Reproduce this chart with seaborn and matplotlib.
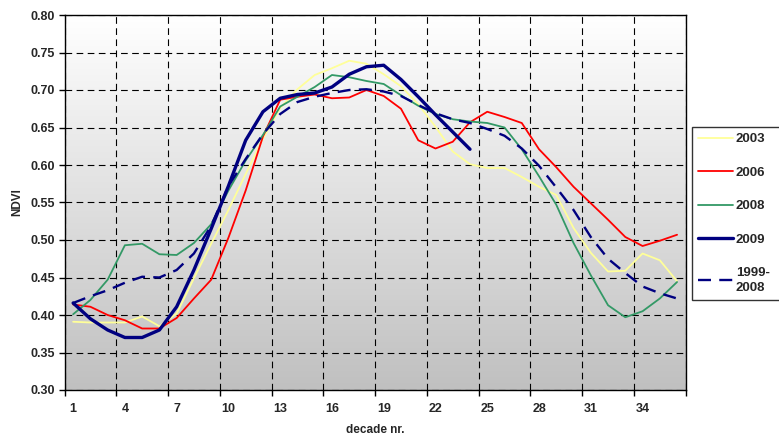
import numpy as np
import pandas as pd
import matplotlib
matplotlib.use("Agg")
import matplotlib.pyplot as plt
import seaborn as sns
from matplotlib.colors import LinearSegmentedColormap

# ---- data ----
decades = list(range(1, 37))
y2003 = [0.391, 0.390, 0.390, 0.390, 0.398, 0.385, 0.402, 0.449, 0.495, 0.540,
         0.588, 0.635, 0.676, 0.701, 0.720, 0.729, 0.739, 0.735, 0.721, 0.705,
         0.681, 0.651, 0.618, 0.601, 0.596, 0.596, 0.584, 0.571, 0.560, 0.516,
         0.483, 0.458, 0.459, 0.482, 0.473, 0.445]
y2006 = [0.414, 0.411, 0.400, 0.393, 0.382, 0.382, 0.396, 0.422, 0.447, 0.503,
         0.566, 0.638, 0.687, 0.691, 0.694, 0.689, 0.690, 0.700, 0.692, 0.675,
         0.633, 0.622, 0.631, 0.657, 0.671, 0.664, 0.656, 0.621, 0.597, 0.571,
         0.549, 0.527, 0.504, 0.492, 0.499, 0.507]
y2008 = [0.401, 0.420, 0.447, 0.493, 0.495, 0.481, 0.480, 0.496, 0.521, 0.566,
         0.606, 0.640, 0.678, 0.691, 0.704, 0.720, 0.717, 0.712, 0.708, 0.693,
         0.679, 0.668, 0.661, 0.658, 0.656, 0.650, 0.621, 0.585, 0.547, 0.496,
         0.453, 0.413, 0.397, 0.405, 0.422, 0.444]
y2009 = [0.416, 0.395, 0.380, 0.370, 0.370, 0.380, 0.411, 0.460, 0.515, 0.572,
         0.633, 0.671, 0.689, 0.694, 0.696, 0.704, 0.721, 0.731, 0.733, 0.714,
         0.691, 0.667, 0.644, 0.621]
y_avg = [0.416, 0.425, 0.433, 0.443, 0.451, 0.450, 0.460, 0.482, 0.519, 0.572,
         0.608, 0.641, 0.668, 0.684, 0.691, 0.696, 0.700, 0.701, 0.698, 0.692,
         0.680, 0.669, 0.661, 0.656, 0.648, 0.639, 0.622, 0.599, 0.570, 0.540,
         0.504, 0.475, 0.456, 0.438, 0.429, 0.422]
series_labels = ["2003", "2006", "2008", "2009", "1999-\n2008"]
xtick_labels = ["1", "4", "7", "10", "13", "16", "19", "22", "25", "28", "31", "34"]
ytick_values = [0.30, 0.35, 0.40, 0.45, 0.50, 0.55, 0.60, 0.65, 0.70, 0.75, 0.80]

sns.set_style("white")
plt.rcParams['font.family'] = ['Liberation Sans', 'DejaVu Sans']
plt.rcParams['font.weight'] = 'bold'

W, H = 779, 437
fig = plt.figure(figsize=(W / 100, H / 100), dpi=100)
fig.patch.set_facecolor("white")
ax = fig.add_axes([64.5 / W, 1 - 390 / H, (685.7 - 64.5) / W, (390 - 15) / H])

# gradient background
grad = np.linspace(1.0, 0.0, 256).reshape(-1, 1)
cmap = LinearSegmentedColormap.from_list("bg", ["#c0c0c0", "#ffffff"])
ax.imshow(grad, aspect="auto", cmap=cmap, extent=[0, 1, 0, 1],
          transform=ax.transAxes, zorder=0, origin="upper", vmin=0, vmax=1)

sns.lineplot(x=decades, y=y2003, ax=ax, color="#ffff99", linewidth=1.3, label=series_labels[0], zorder=3)
sns.lineplot(x=decades, y=y2006, ax=ax, color="#ff0000", linewidth=1.3, label=series_labels[1], zorder=3)
sns.lineplot(x=decades, y=y2008, ax=ax, color="#339966", linewidth=1.3, label=series_labels[2], zorder=3)
sns.lineplot(x=decades[:len(y2009)], y=y2009, ax=ax, color="#000080", linewidth=2.4, label=series_labels[3], zorder=4)
sns.lineplot(x=decades, y=y_avg, ax=ax, color="#000080", linewidth=1.7, label=series_labels[4], zorder=4)
ax.lines[-1].set_linestyle((0, (5.5, 3.5)))

ax.set_xlim(0.5, 36.5)
ax.set_ylim(0.30, 0.80)
ax.set_xticks(decades[::3])
ax.set_xticklabels(xtick_labels)
ax.set_xticks(np.arange(0.5, 37, 3), minor=True)
ax.set_yticks(ytick_values)
ax.set_yticklabels([f"{v:.2f}" for v in ytick_values])

ax.tick_params(axis="x", which="major", length=0, pad=9, labelsize=9)
ax.tick_params(axis="x", which="minor", length=4, width=1, color="black", direction="out", bottom=True)
ax.tick_params(axis="y", which="major", length=4, width=1, color="black", direction="out", left=True, labelsize=9, pad=3)
for lab in ax.get_xticklabels() + ax.get_yticklabels():
    lab.set_fontweight("bold")

ax.set_axisbelow("line")
ax.grid(False)
ax.yaxis.grid(True, which="major", color="black", linestyle=(0, (6, 4)), linewidth=0.8)
ax.xaxis.grid(True, which="minor", color="black", linestyle=(0, (6, 4)), linewidth=0.8)

for sp in ax.spines.values():
    sp.set_visible(True)
    sp.set_color("black")
    sp.set_linewidth(1.0)
    sp.set_zorder(5)

ax.set_xlabel("decade nr.", fontsize=8.5, fontweight="bold", labelpad=7)
ax.set_ylabel("NDVI", fontsize=8.5, fontweight="bold", labelpad=5)

handles, labels = ax.get_legend_handles_labels()
ax.get_legend().remove()
leg = fig.legend(handles, labels, loc="upper left",
                 bbox_to_anchor=(691.7 / W, 1 - 126.7 / H, 110 / W, 0.0001),
                 mode="expand", frameon=True, fancybox=False, edgecolor="black",
                 fontsize=9.5, handlelength=2.6, handletextpad=0.25, labelspacing=1.6,
                 borderpad=0.5, borderaxespad=0)
leg.get_frame().set_linewidth(1.0)
for t in leg.get_texts():
    t.set_fontweight("bold")
    t.set_linespacing(1.35)

fig.savefig("out.png", dpi=100)
